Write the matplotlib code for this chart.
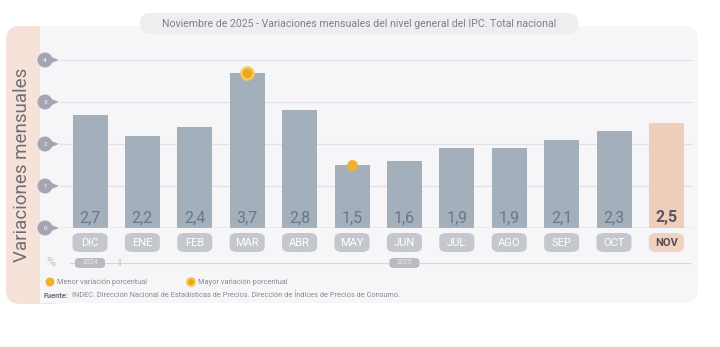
import matplotlib
matplotlib.use("Agg")
import matplotlib.pyplot as plt
from matplotlib.patches import FancyBboxPatch, Circle, Polygon, Ellipse
import numpy as np

plt.rcParams['font.family'] = ['Roboto', 'DejaVu Sans']

months = ["DIC", "ENE", "FEB", "MAR", "ABR", "MAY", "JUN", "JUL", "AGO", "SEP", "OCT", "NOV"]
values = [2.7, 2.2, 2.4, 3.7, 2.8, 1.5, 1.6, 1.9, 1.9, 2.1, 2.3, 2.5]
value_labels = ["2,7", "2,2", "2,4", "3,7", "2,8", "1,5", "1,6", "1,9", "1,9", "2,1", "2,3", "2,5"]
yticks = [0, 1, 2, 3, 4]
years = ["2024", "2025"]
year_pos = [0, 6]
title = "Noviembre de 2025 - Variaciones mensuales del nivel general del IPC. Total nacional"
ylabel = "Variaciones mensuales"
legend_labels = ["Menor variación porcentual", "Mayor variación porcentual"]
source_bold = "Fuente:"
source_text = "INDEC. Dirección Nacional de Estadísticas de Precios. Dirección de Índices de Precios de Consumo."

W, H = 720, 347
fig = plt.figure(figsize=(W / 100, H / 100), dpi=100)
fig.patch.set_facecolor("white")

# background axes in pixel coords
bg = fig.add_axes([0, 0, 1, 1])
bg.set_xlim(0, W)
bg.set_ylim(H, 0)
bg.axis("off")

# left pink panel
bg.add_patch(FancyBboxPatch((6, 26), 60, 278, boxstyle="round,pad=0,rounding_size=14",
                            fc="#f6e2d9", ec="none", zorder=0))
# main light panel
bg.add_patch(FancyBboxPatch((40, 26), 658, 277, boxstyle="round,pad=0,rounding_size=14",
                            fc="#f6f6f8", ec="none", zorder=1))
bg.add_patch(plt.Rectangle((40, 26), 20, 277, fc="#f6f6f8", ec="none", zorder=1))
# title tag
bg.add_patch(FancyBboxPatch((140, 13), 438, 21, boxstyle="round,pad=0,rounding_size=10",
                            fc="#eeeef1", ec="none", zorder=2))
bg.text(359, 23.5, title, ha="center", va="center", fontsize=7.6, color="#808086", zorder=3)
bg.text(22, 165, ylabel, ha="center", va="center", rotation=90, fontsize=13.5,
        color="#6e6e72", zorder=3)

# percent sign
bg.text(46, 262, "%", ha="left", va="center", fontsize=9, color="#c0c0c4", zorder=3)

# legend
bg.add_patch(Circle((50, 282), 4.5, fc="#f0b22c", ec="none", zorder=3))
bg.text(57, 282, legend_labels[0], ha="left", va="center", fontsize=5.3, color="#8a8a90", zorder=3)
bg.add_patch(Circle((191, 282), 5, fc="#f7c85a", ec="none", zorder=3))
bg.add_patch(Circle((191, 282), 3, fc="#eea51e", ec="none", zorder=3))
bg.text(198, 282, legend_labels[1], ha="left", va="center", fontsize=5.3, color="#8a8a90", zorder=3)
t = bg.text(44, 295.5, source_bold, ha="left", va="center", fontsize=5.3, color="#6a6a70",
            fontweight="bold", zorder=3)
bg.annotate(source_text, xy=(1, 0.5), xycoords=t, xytext=(2, 0), textcoords="offset points",
            ha="left", va="center", fontsize=5.3, color="#8a8a90", zorder=3)

# data axes
px_per_unit = 42.0
ax_left, ax_right = 60, 693
ax_bottom_px, ax_top_px = 228, 40
ymax = (ax_bottom_px - ax_top_px) / px_per_unit
ax = fig.add_axes([ax_left / W, (H - ax_bottom_px) / H, (ax_right - ax_left) / W,
                   (ax_bottom_px - ax_top_px) / H])
ax.set_facecolor("none")
ax.set_zorder(5)
spacing = 52.4
x0 = (ax_left - 90) / spacing
x1 = x0 + (ax_right - ax_left) / spacing
ax.set_xlim(x0, x1)
ax.set_ylim(0, ymax)
for s in ax.spines.values():
    s.set_visible(False)
ax.set_xticks([])
ax.set_yticks([])

x = np.arange(len(months))
colors = ["#a4afbc"] * (len(months) - 1) + ["#efcfbb"]

# gridlines
for yv in yticks[1:]:
    ax.axhline(yv, color="#e2e2e6", lw=0.9, zorder=1)
ax.axhline(0, color="#b9bdc4", lw=1.0, zorder=4)

bw = 35 / spacing
ax.bar(x, values, width=bw, color=colors, zorder=2)

for i, (xi, lab) in enumerate(zip(x, value_labels)):
    last = i == len(months) - 1
    ax.text(xi, 0.24, lab, ha="center", va="center", fontsize=11.5,
            color="#5a5460" if last else "#6b7687",
            fontweight="bold" if last else "normal", zorder=5)

# y tick badges
for yv in yticks:
    xb = x0 - 15 / spacing
    yr = 8 / px_per_unit
    ax.add_patch(Polygon([[xb, yv + yr * 0.7], [xb + 14 / spacing, yv], [xb, yv - yr * 0.7]],
                         closed=True, fc="#a2a6b2", ec="none", clip_on=False, zorder=6))
    ax.add_patch(Ellipse((xb, yv), 15 / spacing, 15 / px_per_unit,
                         fc="#a2a6b2", ec="none", clip_on=False, zorder=6))
    ax.text(xb, yv, str(yv), ha="center", va="center", fontsize=4.5, color="white",
            clip_on=False, zorder=7)

# month badges
bh = 19 / px_per_unit
btop = -5 / px_per_unit
for i, (xi, m) in enumerate(zip(x, months)):
    last = i == len(months) - 1
    ax.add_patch(FancyBboxPatch((xi - bw / 2, btop - bh), bw, bh,
                                boxstyle="round,pad=0,rounding_size=0.15",
                                mutation_aspect=1 / 1.25,
                                fc="#efd3c0" if last else "#c4c7cd", ec="none",
                                clip_on=False, zorder=5))
    ax.text(xi, btop - bh / 2, m, ha="center", va="center", fontsize=8,
            color="#5a4c52" if last else "white", fontweight="bold" if last else "normal",
            clip_on=False, zorder=6)

# timeline
yl = -35 / px_per_unit
ax.plot([x0 + 10 / spacing, x1 - 3 / spacing], [yl, yl], color="#d6d6da", lw=0.8,
        clip_on=False, zorder=4)
for xp, yr_lab in zip(year_pos, years):
    ax.add_patch(FancyBboxPatch((xp - 15 / spacing, yl - 5 / px_per_unit), 30 / spacing,
                                10 / px_per_unit, boxstyle="round,pad=0,rounding_size=0.09",
                                mutation_aspect=1 / 1.25, fc="#b9bbc1", ec="none",
                                clip_on=False, zorder=5))
    ax.text(xp, yl, yr_lab, ha="center", va="center", fontsize=5, color="#e8e8ea",
            clip_on=False, zorder=6)
ax.text(year_pos[0] + 0.55, yl, "‖", ha="center", va="center", fontsize=5, color="#c0c0c4",
        clip_on=False, zorder=6)

# highlight markers
imax = int(np.argmax(values))
imin = int(np.argmin(values))
ax.scatter([x[imax]], [values[imax]], s=110, color="#f7c85a", zorder=7, clip_on=False, linewidths=0)
ax.scatter([x[imax]], [values[imax]], s=45, color="#eea51e", zorder=8, clip_on=False, linewidths=0)
ax.scatter([x[imin]], [values[imin]], s=60, color="#f0b22c", zorder=7, clip_on=False, linewidths=0)

fig.savefig("out.png", dpi=100, facecolor="white")
